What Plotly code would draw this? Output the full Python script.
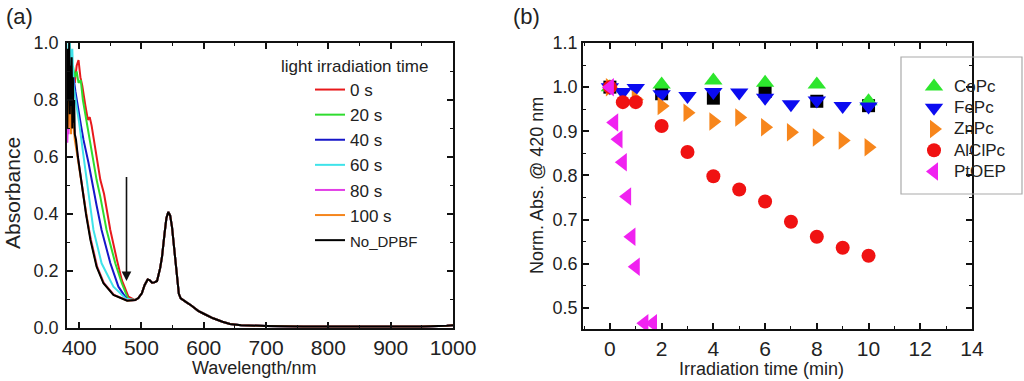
import plotly.graph_objects as go

# ---------------- Panel (a): absorption spectra ----------------
SERIES_NAMES = ["0 s", "20 s", "40 s", "60 s", "80 s", "100 s", "No_DPBF"]
SERIES_COLORS = ["#e8191b", "#2fdc2f", "#1616c8", "#3fe3ea", "#e23ee6", "#f5851c", "#000000"]

# individual (time-dependent) short-wavelength parts
WL_0S = [381, 384, 387, 390, 393, 396, 399, 402, 405, 408, 410, 414, 417, 420, 427, 434, 440, 450, 460.5, 468.5, 479, 488]
AB_0S = [0.78, 0.88, 0.82, 0.90, 0.86, 0.92, 0.94, 0.88, 0.85, 0.80, 0.78, 0.73, 0.74, 0.71, 0.62, 0.52, 0.47, 0.344, 0.24, 0.168, 0.11, 0.098]

WL_20S = [381, 384, 387, 390, 393, 396, 399, 402.6, 406, 412, 420, 428, 434, 444, 458, 468.5, 479, 487]
AB_20S = [0.80, 0.90, 0.85, 0.92, 0.88, 0.90, 0.86, 0.87, 0.80, 0.72, 0.62, 0.52, 0.46, 0.344, 0.227, 0.157, 0.10, 0.097]

WL_40S = [381, 383, 385, 387, 389, 391, 394, 397, 400, 403, 407, 415, 420, 428, 436, 450, 463, 477, 485]
AB_40S = [0.80, 0.95, 0.85, 0.95, 0.82, 0.88, 0.83, 0.78, 0.75, 0.71, 0.66, 0.58, 0.52, 0.43, 0.344, 0.228, 0.145, 0.10, 0.097]

WL_60S = [381, 383, 385, 387, 389, 391, 393, 396, 400, 406, 412, 423, 436, 455, 475, 485]
AB_60S = [0.90, 1.00, 1.00, 0.92, 0.98, 0.85, 0.82, 0.78, 0.72, 0.62, 0.52, 0.344, 0.227, 0.145, 0.103, 0.098]

WL_80S = [381, 382, 383, 385, 387, 389, 391, 393, 396, 400, 404, 408, 412, 419, 429, 440, 456, 478, 488]
AB_80S = [0.65, 0.72, 0.68, 0.85, 0.70, 0.80, 0.72, 0.68, 0.63, 0.57, 0.51, 0.45, 0.39, 0.31, 0.215, 0.157, 0.116, 0.097, 0.098]

WL_100S = [381, 383, 385, 387, 389, 391, 393, 396, 400, 404, 408, 411.5, 418.5, 428.5, 439.5, 455.5, 477.5, 488]
AB_100S = [0.85, 0.70, 0.90, 0.68, 0.78, 0.70, 0.66, 0.62, 0.56, 0.50, 0.44, 0.40, 0.31, 0.215, 0.157, 0.116, 0.096, 0.098]

WL_NODPBF = [381, 382, 383, 384, 385, 386, 387, 388, 389, 390, 391, 392, 393, 395, 398, 400, 404, 408, 411, 418, 428, 439, 455, 477, 488]
AB_NODPBF = [0.70, 0.98, 0.80, 1.00, 0.75, 0.92, 0.78, 0.95, 0.70, 0.88, 0.72, 0.80, 0.68, 0.66, 0.60, 0.57, 0.50, 0.44, 0.40, 0.31, 0.215, 0.157, 0.116, 0.096, 0.098]

# common part (identical for all curves) beyond ~490 nm
WL_TAIL = [490, 495, 500.6, 505, 510, 513, 517, 521, 525, 530, 533, 537, 540, 543, 546, 549, 553, 557, 560, 563,
           568, 573, 580, 591, 600, 615, 630, 642, 660, 680, 700, 760, 850, 950, 990, 1000]
AB_TAIL = [0.098, 0.105, 0.122, 0.15, 0.17, 0.168, 0.159, 0.16, 0.165, 0.21, 0.25, 0.33, 0.385, 0.407, 0.395, 0.355,
           0.26, 0.168, 0.12, 0.104, 0.095, 0.089, 0.079, 0.06, 0.05, 0.034, 0.022, 0.014, 0.010, 0.008, 0.007,
           0.005, 0.004, 0.005, 0.008, 0.010]

HEADS = [(WL_0S, AB_0S), (WL_20S, AB_20S), (WL_40S, AB_40S), (WL_60S, AB_60S),
         (WL_80S, AB_80S), (WL_100S, AB_100S), (WL_NODPBF, AB_NODPBF)]

A_XTICKS = [400, 500, 600, 700, 800, 900, 1000]
A_YTICKS = [0.0, 0.2, 0.4, 0.6, 0.8, 1.0]

# ---------------- Panel (b): normalized absorbance ----------------
HIDDEN_T = [0, 2, 4, 6, 8, 10]
HIDDEN_V = [1.0, 0.985, 0.975, 0.99, 0.968, 0.958]

COPC_T = [0, 2, 4, 6, 8, 10]
COPC_V = [1.0, 1.006, 1.015, 1.010, 1.006, 0.968]

FEPC_T = [0, 0.5, 1, 2, 3, 4, 5, 6, 7, 8, 9, 10]
FEPC_V = [1.0, 0.989, 0.998, 0.984, 0.980, 0.989, 0.988, 0.976, 0.961, 0.970, 0.957, 0.956]

ZNPC_T = [0, 1, 2, 3, 4, 5, 6, 7, 8, 9, 10]
ZNPC_V = [1.0, 0.972, 0.957, 0.942, 0.922, 0.931, 0.909, 0.898, 0.886, 0.879, 0.864]

ALCLPC_T = [0, 0.5, 1, 2, 3, 4, 5, 6, 7, 8, 9, 10]
ALCLPC_V = [1.0, 0.966, 0.966, 0.912, 0.853, 0.798, 0.768, 0.741, 0.695, 0.661, 0.636, 0.618]

PTOEP_T = [0, 0.1667, 0.3333, 0.5, 0.6667, 0.8333, 1.0, 1.3333, 1.6667]
PTOEP_V = [1.0, 0.920, 0.882, 0.830, 0.752, 0.661, 0.593, 0.465, 0.465]

B_XTICKS = [0, 2, 4, 6, 8, 10, 12, 14]
B_YTICKS = [0.5, 0.6, 0.7, 0.8, 0.9, 1.0, 1.1]

FONT = "Liberation Sans, Arial, sans-serif"
TXT = "#222222"
W, H = 1024, 381
OFF = 0  # body margin removed by the post script below


def px_x(p):
    return (p - OFF) / W


def px_y(p):
    return (H - (p - OFF)) / H


fig = go.Figure()

for name, color, (wl, ab) in zip(SERIES_NAMES, SERIES_COLORS, HEADS):
    x = [w for w in wl if w < WL_TAIL[0]] + WL_TAIL
    y = [a for w, a in zip(wl, ab) if w < WL_TAIL[0]] + AB_TAIL
    label = name if name != "No_DPBF" else '<span style="font-size:15px">No_DPBF</span>'
    fig.add_trace(go.Scatter(x=x, y=y, mode="lines", name=label,
                             line=dict(color=color, width=2), legend="legend",
                             xaxis="x", yaxis="y"))

# panel (b)
fig.add_trace(go.Scatter(x=HIDDEN_T, y=HIDDEN_V, mode="markers", showlegend=False,
                         marker=dict(symbol="square", size=13, color="#000000"),
                         xaxis="x2", yaxis="y2"))
b_series = [
    ("CoPc", COPC_T, COPC_V, "triangle-up", "#2de62d", 16),
    ("FePc", FEPC_T, FEPC_V, "triangle-down", "#0b0bf0", 16),
    ("ZnPc", ZNPC_T, ZNPC_V, "triangle-right", "#f7861c", 16),
    ("AlClPc", ALCLPC_T, ALCLPC_V, "circle", "#f01212", 14),
    ("PtOEP", PTOEP_T, PTOEP_V, "triangle-left", "#f022f0", 16),
]
for name, t, v, sym, col, sz in b_series:
    fig.add_trace(go.Scatter(x=t, y=v, mode="markers",
                             name=f'<span style="font-size:17px">{name}</span>', legend="legend2",
                             marker=dict(symbol=sym, size=sz, color=col, line=dict(width=0)),
                             xaxis="x2", yaxis="y2", cliponaxis=True))

axis_common = dict(showline=True, linecolor="#111", linewidth=1.6, mirror="allticks",
                   ticks="inside", ticklen=6, tickwidth=1.5, tickcolor="#111",
                   showgrid=False, zeroline=False, automargin=False)

fig.update_layout(
    width=W, height=H, margin=dict(l=0, r=0, t=0, b=0, autoexpand=False),
    paper_bgcolor="white", plot_bgcolor="white",
    font=dict(family=FONT, color=TXT),
    xaxis=dict(domain=[px_x(67), px_x(453)], range=[380.5, 1000], tickvals=A_XTICKS,
               tickfont=dict(size=21), anchor="y",
               minor=dict(dtick=50, tick0=0, ticks="inside", ticklen=3.5, tickwidth=1.2, tickcolor="#111"),
               **axis_common),
    yaxis=dict(domain=[px_y(328), px_y(43)], range=[0, 1.0], tickvals=A_YTICKS,
               ticktext=[f"{v:.1f}" for v in A_YTICKS], tickfont=dict(size=18), anchor="x",
               ticklabelstandoff=3,
               minor=dict(dtick=0.1, tick0=0, ticks="inside", ticklen=3.5, tickwidth=1.2, tickcolor="#111"),
               **axis_common),
    xaxis2=dict(domain=[px_x(583), px_x(972)], range=[-1.04, 14], tickvals=B_XTICKS,
                tickfont=dict(size=21), anchor="y2",
                minor=dict(dtick=1, tick0=0, ticks="inside", ticklen=3.5, tickwidth=1.2, tickcolor="#111"),
                **axis_common),
    yaxis2=dict(domain=[px_y(329), px_y(43)], range=[0.452, 1.1], tickvals=B_YTICKS,
                ticktext=[f"{v:.1f}" for v in B_YTICKS], tickfont=dict(size=18), anchor="x2",
                minor=dict(dtick=0.05, tick0=0, ticks="inside", ticklen=3.5, tickwidth=1.2, tickcolor="#111"),
                **axis_common),
    legend=dict(x=px_x(310), y=px_y(72), xanchor="left", yanchor="top",
                bgcolor="rgba(0,0,0,0)", borderwidth=0, font=dict(size=17),
                tracegroupgap=0, itemwidth=30),
    legend2=dict(x=px_x(914), y=px_y(71), xanchor="left", yanchor="top",
                 bgcolor="rgba(0,0,0,0)", borderwidth=0, font=dict(size=14),
                 tracegroupgap=0, itemsizing="trace"),
    showlegend=True,
)

# legend box for panel (b)
fig.add_shape(type="rect", xref="paper", yref="paper",
              x0=px_x(901), x1=px_x(1022), y0=px_y(194), y1=px_y(57),
              line=dict(color="#aaaaaa", width=1.2), fillcolor="rgba(0,0,0,0)")


def label(text, x, y, size, angle=0):
    fig.add_annotation(text=text, xref="paper", yref="paper", x=px_x(x), y=px_y(y),
                       xanchor="center", yanchor="middle", textangle=angle,
                       showarrow=False, font=dict(size=size, color=TXT))


# legend title for panel (a)
label("light irradiation time", 354, 66, 17)

# axis titles
label("Absorbance", 12, 193, 21, -90)
label("Wavelength/nm", 254, 368, 18)
label("Norm. Abs. @ 420 nm", 537, 186, 18, -90)
label("Irradiation time (min)", 761, 369, 18)

# panel labels
label("(a)", 19, 16, 22)
label("(b)", 526, 16, 22)

# arrow in panel (a)
fig.add_annotation(x=476, y=0.165, ax=476, ay=0.535, xref="x", yref="y", axref="x", ayref="y",
                   text="", showarrow=True, arrowhead=2, arrowsize=1.2, arrowwidth=1.6, arrowcolor="#111")

fig.write_html("out.html", config={"displayModeBar": False},
               post_script="document.body.style.margin='0px';")
